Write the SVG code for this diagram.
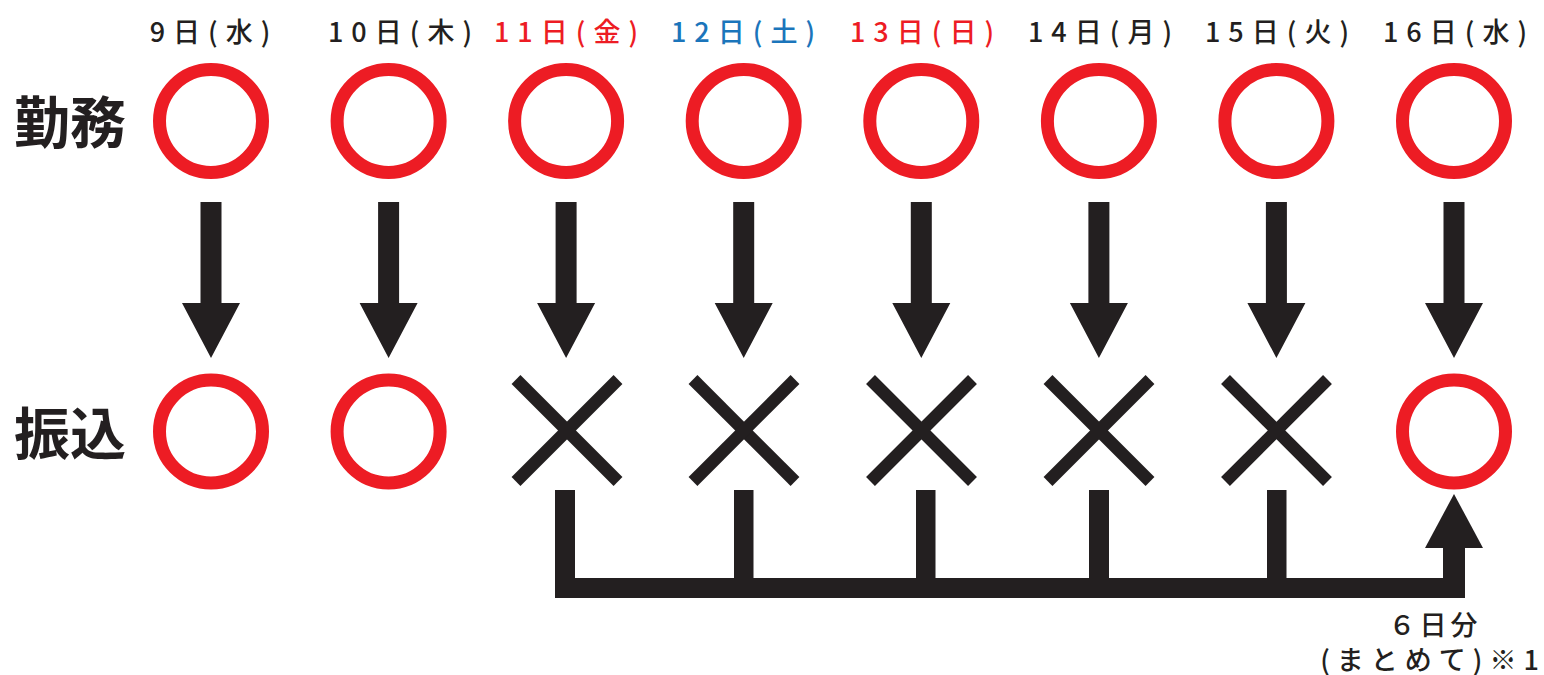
<svg xmlns="http://www.w3.org/2000/svg" width="1544" height="675" viewBox="0 0 1544 675">
<style>
.hd{font-family:"Noto Sans CJK JP","Noto Sans",sans-serif;font-size:27px;font-weight:500;text-anchor:middle;letter-spacing:8px}
.k{fill:#231f20}.r{fill:#ed1c24}.b{fill:#1b75bb}
.lbl{font-family:"Noto Sans CJK JP",sans-serif;font-size:56px;font-weight:bold;fill:#231f20}
.ft{font-family:"Noto Sans CJK JP",sans-serif;font-size:27px;font-weight:500;fill:#231f20;text-anchor:middle}
.o{fill:none;stroke:#ed1c24;stroke-width:13}
.x{stroke:#231f20;stroke-width:12.5;stroke-linecap:butt}
.ar{fill:#231f20}
</style>
<defs>
<polygon id="down" class="ar" points="-10.5,202 10.5,202 10.5,303 29,303 0,358 -29,303 -10.5,303 -10.5,202"/>
<circle id="ring" class="o" r="51.5"/>
<g id="cross"><line class="x" x1="-51" y1="-51" x2="51" y2="51"/><line class="x" x1="51" y1="-51" x2="-51" y2="51"/></g>
</defs>
<rect width="1544" height="675" fill="#fff"/>
<g id="headers">
<text class="hd k" x="214" y="42">9日(水)</text>
<text class="hd k" x="404" y="42">10日(木)</text>
<text class="hd r" x="570" y="42">11日(金)</text>
<text class="hd b" x="747" y="42">12日(土)</text>
<text class="hd r" x="926" y="42">13日(日)</text>
<text class="hd k" x="1104" y="42">14日(月)</text>
<text class="hd k" x="1281" y="42">15日(火)</text>
<text class="hd k" x="1459" y="42">16日(水)</text>
</g>
<g id="row-labels">
<text class="lbl" x="14" y="143">勤務</text>
<text class="lbl" x="14" y="454">振込</text>
</g>
<g id="work-row">
<use href="#ring" x="211" y="121"/>
<use href="#ring" x="388.6" y="121"/>
<use href="#ring" x="566.1" y="121"/>
<use href="#ring" x="743.7" y="121"/>
<use href="#ring" x="921.3" y="121"/>
<use href="#ring" x="1098.9" y="121"/>
<use href="#ring" x="1276.4" y="121"/>
<use href="#ring" x="1454" y="121"/>
</g>
<g id="pay-row">
<use href="#ring" x="211" y="431.5"/>
<use href="#ring" x="388.6" y="431.5"/>
<use href="#cross" x="567" y="430.5"/>
<use href="#cross" x="744" y="430.5"/>
<use href="#cross" x="921.5" y="430.5"/>
<use href="#cross" x="1099" y="430.5"/>
<use href="#cross" x="1276.5" y="430.5"/>
<use href="#ring" x="1454" y="431.5"/>
</g>
<g id="connectors">
<use href="#down" x="211"/>
<use href="#down" x="388.6"/>
<use href="#down" x="566.1"/>
<use href="#down" x="743.7"/>
<use href="#down" x="921.3"/>
<use href="#down" x="1098.9"/>
<use href="#down" x="1276.4"/>
<use href="#down" x="1454"/>
<g class="ar">
<rect x="555" y="490" width="20" height="108"/>
<rect x="734" y="490" width="19.5" height="100"/>
<rect x="916" y="490" width="19.5" height="100"/>
<rect x="1089" y="490" width="20" height="100"/>
<rect x="1267" y="490" width="19.5" height="100"/>
<rect x="555" y="578" width="910" height="20"/>
<rect x="1443" y="540" width="22" height="58"/>
<polygon points="1454,494 1483,548 1425,548"/>
</g>
</g>
<g id="note">
<text class="ft"><tspan x="1435" y="635" letter-spacing="4">６日分</tspan><tspan x="1433" y="670" letter-spacing="7">(まとめて)※1</tspan></text>
</g>
</svg>
